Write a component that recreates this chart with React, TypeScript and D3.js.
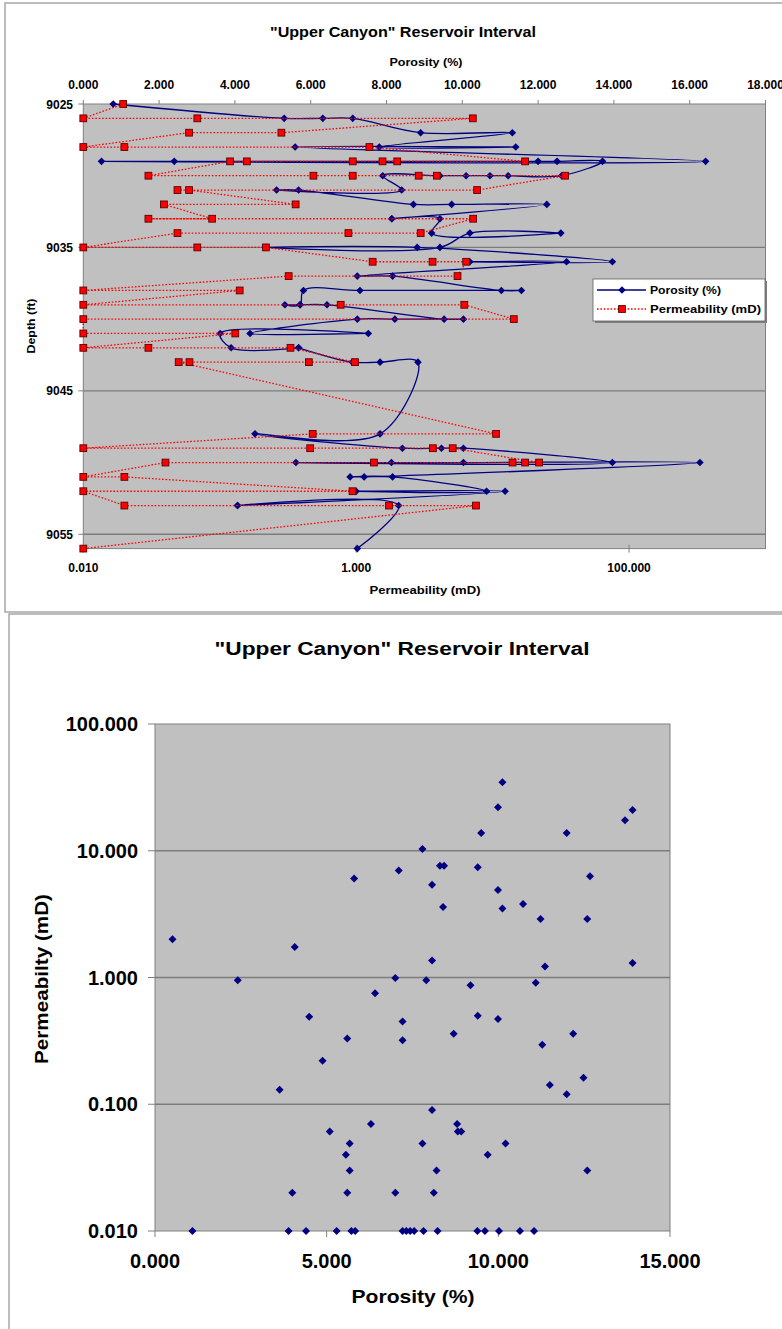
import React from "react";
import * as d3 from "d3";

// ---------- Top chart data (depth profile) ----------
const depthRows = [9025, 9026, 9027, 9028, 9029, 9030, 9031, 9032, 9033, 9034, 9035, 9036, 9037, 9038, 9039, 9040, 9041, 9042, 9043, 9048, 9049, 9050, 9051, 9052, 9053, 9056];

const porosityByRow = [
  [0.79],
  [5.3, 6.32, 7.11],
  [8.9, 11.32],
  [7.81, 11.41, 5.59],
  [16.42, 0.48, 2.4, 12.0, 12.5, 13.7],
  [12.62, 11.21, 10.73, 10.1, 9.41, 7.9],
  [8.4, 5.1, 5.68],
  [8.71, 9.72, 12.23],
  [8.14, 8.14, 9.41],
  [9.19, 12.6, 10.2],
  [9.41, 4.82, 8.81],
  [13.96, 10.2, 12.75],
  [7.23, 8.16],
  [11.03, 11.56, 7.3, 5.81],
  [5.72, 5.32, 5.72, 6.43],
  [9.52, 10.03, 8.22, 7.23],
  [4.4, 7.52, 3.61],
  [3.9, 5.68, 5.68],
  [7.1, 7.83, 8.83],
  [7.83, 4.53],
  [8.42, 9.45, 10.03],
  [13.96, 5.61, 8.13, 10.03, 16.27],
  [7.41, 7.04, 8.16],
  [10.64, 7.2, 11.13],
  [4.07, 4.07, 8.32],
  [7.23],
];

const permByRow = [
  [0.0196],
  [0.01, 0.0685, 7.16],
  [0.283, 0.0596],
  [0.01, 0.02, 1.25],
  [17.3, 2.0, 1.56, 0.944, 0.158, 0.119],
  [0.03, 0.486, 0.944, 2.87, 3.9, 34],
  [7.7, 0.049, 0.0596],
  [0.36, 0.039],
  [0.088, 0.03, 7.2],
  [2.97, 0.877, 0.049],
  [0.01, 0.0685, 0.218],
  [1.32, 3.63, 6.4],
  [5.53, 0.32],
  [0.01, 0.14],
  [0.01, 0.77, 6.2],
  [14.3, 0.01],
  [0.01, 0.13],
  [0.01, 0.03, 0.33],
  [0.98, 0.45, 0.06, 0.05],
  [10.6, 0.48],
  [0.01, 0.46, 3.65, 5.1],
  [21.9, 17.3, 14.0, 1.35, 0.04],
  [0.01, 0.02],
  [0.94, 0.01],
  [0.02, 1.74, 7.55],
  [0.01],
];

const porosityTicksTop = [0, 2, 4, 6, 8, 10, 12, 14, 16, 18];
const depthTicks = [9025, 9035, 9045, 9055];
const permTicksTop = [0.01, 1, 100];

// ---------- Bottom chart data (scatter) ----------
const scatterPorosity = [
  0.51, 2.41, 4.07, 5.8, 4.49, 5.6, 4.88, 3.63, 6.41, 7.0, 7.1, 7.21, 7.21, 5.09, 5.67, 5.56, 5.67, 6.29, 4.0, 5.6, 7.0, 8.12,
  10.12, 9.99, 9.5, 11.99, 13.69, 13.91, 7.79, 8.3, 8.42, 9.4, 8.07, 9.99, 12.67, 8.39, 10.12, 10.72, 11.23, 12.59, 8.07, 11.36, 13.91,
  7.9, 9.19, 11.09, 8.7, 9.4, 9.99, 11.28, 12.18, 11.5, 11.99, 12.48, 8.07, 8.8, 8.82, 8.92, 7.79, 9.69, 10.21, 8.2, 12.59,
  1.09, 3.89, 4.4, 5.29, 5.72, 5.83, 7.21, 7.32, 7.43, 7.55, 7.82, 8.23, 9.39, 9.61, 10.02, 10.63, 11.04,
];
const scatterPerm = [
  2.0, 0.95, 1.74, 6.05, 0.49, 0.33, 0.22, 0.13, 0.75, 0.99, 7.0, 0.45, 0.32, 0.061, 0.049, 0.04, 0.03, 0.07, 0.02, 0.02, 0.02, 0.02,
  34.7, 22, 13.8, 13.8, 17.4, 21, 10.3, 7.6, 7.6, 7.4, 5.4, 4.9, 6.3, 3.6, 3.5, 3.8, 2.9, 2.9, 1.36, 1.22, 1.3,
  0.95, 0.87, 0.91, 0.36, 0.5, 0.47, 0.295, 0.36, 0.142, 0.12, 0.162, 0.09, 0.07, 0.061, 0.061, 0.049, 0.04, 0.049, 0.03, 0.03,
  0.01, 0.01, 0.01, 0.01, 0.01, 0.01, 0.01, 0.01, 0.01, 0.01, 0.01, 0.01, 0.01, 0.01, 0.01, 0.01, 0.01,
];
const scatterYTicks = [100, 10, 1, 0.1, 0.01];
const scatterXTicks = [0, 5, 10, 15];

const TITLE = '"Upper Canyon" Reservoir Interval';
const FONT = "'Liberation Sans', Arial, Helvetica, sans-serif";
const NAVY = "#000080";
const RED = "#ff0000";
const PLOT_BG = "#c0c0c0";
const GRID = "#7c7c7c";

const diamond = (r: number) => `M0,${-r}L${r},0L0,${r}L${-r},0Z`;
const fmt = d3.format(".3f");

type Pt = { depth: number; v: number };

export default function App() {
  // top chart scales
  const tx0 = 83.3, tx1 = 765.5, ty0 = 104, ty1 = 548.6;
  const xPor = d3.scaleLinear().domain([0, 18]).range([tx0, tx1]);
  const xPerm = d3.scaleLog().domain([0.01, 1000]).range([tx0, tx1]);
  const yDepth = d3.scaleLinear().domain([9025, 9056]).range([ty0, ty1]);

  const porPts: Pt[] = depthRows.flatMap((d, i) => porosityByRow[i].map((v) => ({ depth: d, v })));
  const permPts: Pt[] = depthRows.flatMap((d, i) => permByRow[i].map((v) => ({ depth: d, v })));

  const porLine = d3
    .line<Pt>()
    .x((p) => xPor(p.v))
    .y((p) => yDepth(p.depth))
    .curve(d3.curveCatmullRom.alpha(0.5));
  const permLine = d3
    .line<Pt>()
    .x((p) => xPerm(p.v))
    .y((p) => yDepth(p.depth));

  // bottom chart scales
  const bx0 = 155, bx1 = 670, by0 = 724, by1 = 1231;
  const xS = d3.scaleLinear().domain([0, 15]).range([bx0, bx1]);
  const yS = d3.scaleLog().domain([0.01, 100]).range([by1, by0]);

  return (
    <svg
      width={782}
      height={1329}
      style={{ position: "absolute", left: 0, top: 0, background: "#fff" }}
      fontFamily={FONT}
      fontWeight="bold"
    >
      <rect x={0} y={0} width={782} height={1329} fill="#fff" />
      {/* chart frames */}
      <rect x={5} y={3} width={800} height={609} fill="#fff" stroke="#a8a8a8" strokeWidth={1.5} />
      <rect x={9} y={614} width={800} height={740} fill="#fff" stroke="#a8a8a8" strokeWidth={1.5} />

      {/* ================= TOP CHART ================= */}
      <text x={403} y={37} fontSize={15} textAnchor="middle" textLength={266} lengthAdjust="spacingAndGlyphs">
        {TITLE}
      </text>
      <text x={426} y={66} fontSize={11} textAnchor="middle" textLength={73} lengthAdjust="spacingAndGlyphs">
        Porosity (%)
      </text>

      <rect x={tx0} y={ty0} width={tx1 - tx0} height={ty1 - ty0} fill={PLOT_BG} stroke="#808080" strokeWidth={1} />
      {depthTicks
        .filter((d) => d !== 9025)
        .map((d) => (
          <line key={"g" + d} x1={tx0} x2={tx1} y1={yDepth(d)} y2={yDepth(d)} stroke={GRID} strokeWidth={1.3} />
        ))}

      {/* top axis ticks & labels */}
      {porosityTicksTop.map((t) => (
        <g key={"pt" + t}>
          <line x1={xPor(t)} x2={xPor(t)} y1={ty0} y2={ty0 - 4} stroke="#808080" />
          <text x={xPor(t)} y={89} fontSize={12} textAnchor="middle">
            {fmt(t)}
          </text>
        </g>
      ))}
      {/* depth axis */}
      {depthTicks.map((d) => (
        <g key={"dt" + d}>
          <line x1={tx0 - 5} x2={tx0} y1={yDepth(d)} y2={yDepth(d)} stroke="#808080" />
          <text x={73} y={yDepth(d) + 4.5} fontSize={12} textAnchor="end">
            {d}
          </text>
        </g>
      ))}
      <text
        transform={`translate(35,326) rotate(-90)`}
        fontSize={11}
        textAnchor="middle"
        textLength={55}
        lengthAdjust="spacingAndGlyphs"
      >
        Depth (ft)
      </text>
      {/* bottom perm axis */}
      {permTicksTop.map((t) => (
        <g key={"kt" + t}>
          <line x1={xPerm(t)} x2={xPerm(t)} y1={ty1 - 4} y2={ty1 + 4} stroke="#808080" />
          <text x={xPerm(t)} y={572} fontSize={12} textAnchor="middle">
            {fmt(t)}
          </text>
        </g>
      ))}
      <text x={425} y={594} fontSize={11} textAnchor="middle" textLength={111} lengthAdjust="spacingAndGlyphs">
        Permeability (mD)
      </text>

      {/* series */}
      <path d={porLine(porPts) || ""} fill="none" stroke={NAVY} strokeWidth={1.3} />
      {porPts.map((p, i) => (
        <path key={"pd" + i} d={diamond(3.8)} transform={`translate(${xPor(p.v)},${yDepth(p.depth)})`} fill={NAVY} />
      ))}
      <path d={permLine(permPts) || ""} fill="none" stroke={RED} strokeWidth={1.3} strokeDasharray="1.6,1.8" />
      {permPts.map((p, i) => (
        <rect
          key={"ks" + i}
          x={xPerm(p.v) - 3.4}
          y={yDepth(p.depth) - 3.4}
          width={6.8}
          height={6.8}
          fill={RED}
          stroke="#5a0000"
          strokeWidth={0.9}
        />
      ))}

      {/* legend */}
      <rect x={595} y={281} width={172} height={42} fill="#808080" />
      <rect x={593} y={279} width={172} height={42} fill="#fff" stroke="#606060" strokeWidth={0.8} />
      <line x1={597} x2={646} y1={290} y2={290} stroke={NAVY} strokeWidth={1.3} />
      <path d={diamond(3.8)} transform="translate(622,290)" fill={NAVY} />
      <text x={650} y={294} fontSize={11} textLength={71} lengthAdjust="spacingAndGlyphs">
        Porosity (%)
      </text>
      <line x1={597} x2={646} y1={309} y2={309} stroke={RED} strokeWidth={1.3} strokeDasharray="1.6,1.8" />
      <rect x={622 - 3.4} y={309 - 3.4} width={6.8} height={6.8} fill={RED} stroke="#5a0000" strokeWidth={0.9} />
      <text x={650} y={313} fontSize={11} textLength={111} lengthAdjust="spacingAndGlyphs">
        Permeability (mD)
      </text>

      {/* ================= BOTTOM CHART ================= */}
      <text x={402} y={655} fontSize={18} textAnchor="middle" textLength={375} lengthAdjust="spacingAndGlyphs">
        {TITLE}
      </text>
      <rect x={bx0} y={by0} width={bx1 - bx0} height={by1 - by0} fill={PLOT_BG} stroke="#808080" strokeWidth={1} />
      {scatterYTicks
        .filter((t) => t !== 100 && t !== 0.01)
        .map((t) => (
          <line key={"sg" + t} x1={bx0} x2={bx1} y1={yS(t)} y2={yS(t)} stroke={GRID} strokeWidth={1.3} />
        ))}
      {scatterYTicks.map((t) => (
        <g key={"sy" + t}>
          <line x1={bx0 - 7} x2={bx0} y1={yS(t)} y2={yS(t)} stroke="#808080" />
          <text x={138} y={yS(t) + 7} fontSize={20} textAnchor="end">
            {fmt(t)}
          </text>
        </g>
      ))}
      {scatterXTicks.map((t) => (
        <g key={"sx" + t}>
          <line x1={xS(t)} x2={xS(t)} y1={by1} y2={by1 + 6} stroke="#808080" />
          <text x={xS(t)} y={1268} fontSize={20} textAnchor="middle">
            {fmt(t)}
          </text>
        </g>
      ))}
      <text x={413} y={1303} fontSize={19} textAnchor="middle" textLength={123} lengthAdjust="spacingAndGlyphs">
        Porosity (%)
      </text>
      <text
        transform={`translate(48,979) rotate(-90)`}
        fontSize={19}
        textAnchor="middle"
        textLength={170}
        lengthAdjust="spacingAndGlyphs"
      >
        Permeabilty (mD)
      </text>
      {scatterPorosity.map((p, i) => (
        <path key={"sp" + i} d={diamond(4)} transform={`translate(${xS(p)},${yS(scatterPerm[i])})`} fill={NAVY} />
      ))}
    </svg>
  );
}
